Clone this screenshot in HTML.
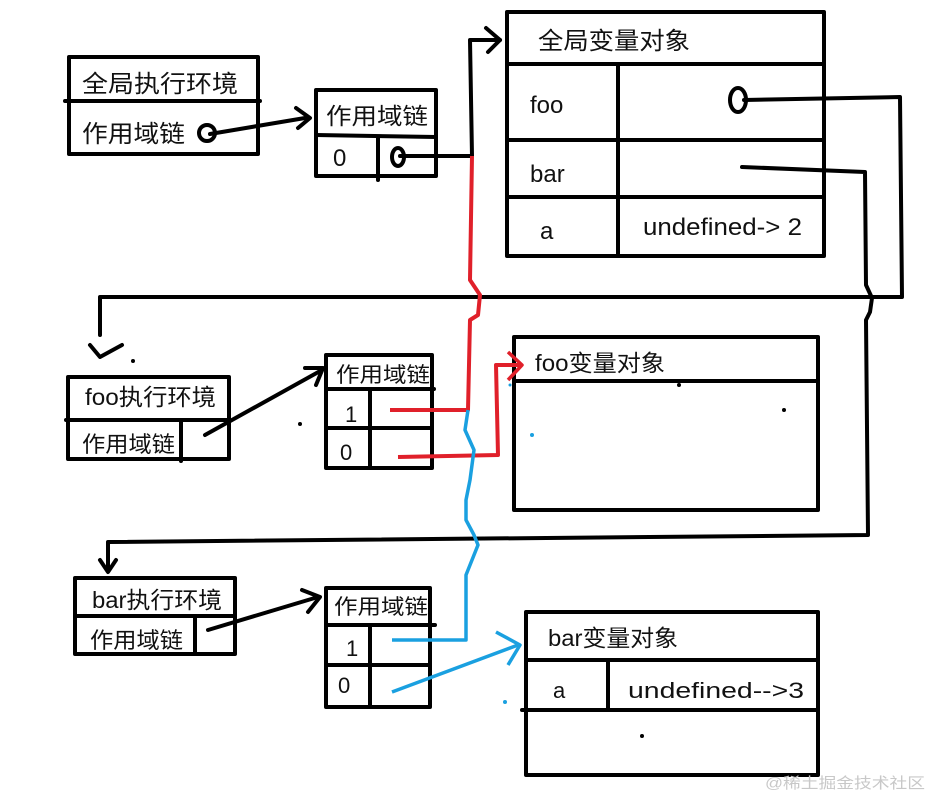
<!DOCTYPE html>
<html><head><meta charset="utf-8"><style>
html,body{margin:0;padding:0;background:#fff;}
svg{display:block}
text{font-family:"Liberation Sans","Noto Sans CJK SC",sans-serif;fill:#111;}
</style></head><body>
<svg width="929" height="799" viewBox="0 0 929 799" xmlns="http://www.w3.org/2000/svg">
<g fill="none" stroke="#000" stroke-width="4" stroke-linecap="round" stroke-linejoin="round">
<rect x="69" y="57" width="189" height="97"/>
<line x1="65" y1="101" x2="260" y2="101"/>
<circle cx="207" cy="133" r="8" stroke-width="4"/>
<line x1="210" y1="134" x2="305" y2="118"/>
<polyline points="296,108 310,118 298,128"/>
<rect x="316" y="90" width="120" height="86"/>
<line x1="316" y1="135" x2="436" y2="137"/>
<line x1="378" y1="137" x2="378" y2="180"/>
<ellipse cx="398" cy="157" rx="6" ry="9"/>
<line x1="400" y1="156" x2="470" y2="156"/>
<polyline points="472,156 470,40 500,40"/>
<polyline points="486,28 500,40 488,52"/>
<rect x="507" y="12" width="317" height="244"/>
<line x1="507" y1="64" x2="824" y2="64"/>
<line x1="507" y1="140" x2="824" y2="140"/>
<line x1="507" y1="197" x2="824" y2="197"/>
<line x1="618" y1="64" x2="618" y2="256"/>
<ellipse cx="738" cy="100" rx="8" ry="12"/>
<polyline points="744,100 900,97 902,297 100,297 100,335"/>
<polyline points="90,345 100,357 122,345"/>
<polyline points="742,167 865,172 866,285 872,298 870,312 866,320 868,535 108,542 108,568"/>
<polyline points="100,560 108,572 116,560"/>
<rect x="68" y="377" width="161" height="82"/>
<line x1="66" y1="420" x2="229" y2="420"/>
<line x1="181" y1="420" x2="181" y2="461"/>
<line x1="205" y1="435" x2="322" y2="370"/>
<polyline points="305,368 323,368 316,385"/>
<rect x="326" y="355" width="106" height="113"/>
<line x1="326" y1="389" x2="434" y2="389"/>
<line x1="326" y1="428" x2="432" y2="428"/>
<line x1="370" y1="389" x2="370" y2="468"/>
<rect x="514" y="337" width="304" height="173"/>
<line x1="514" y1="381" x2="818" y2="381"/>
<rect x="75" y="578" width="160" height="76"/>
<line x1="75" y1="616" x2="235" y2="616"/>
<line x1="195" y1="616" x2="195" y2="654"/>
<line x1="208" y1="630" x2="318" y2="597"/>
<polyline points="302,590 320,597 308,612"/>
<rect x="326" y="588" width="104" height="119"/>
<line x1="326" y1="625" x2="435" y2="625"/>
<line x1="326" y1="665" x2="430" y2="665"/>
<line x1="370" y1="625" x2="370" y2="707"/>
<rect x="526" y="612" width="292" height="163"/>
<line x1="526" y1="660" x2="818" y2="660"/>
<line x1="522" y1="710" x2="818" y2="710"/>
<line x1="608" y1="660" x2="608" y2="710"/>
</g>
<g fill="none" stroke="#e0202a" stroke-width="4" stroke-linejoin="round">
<polyline points="472,156 470,280 480,295 478,315 470,320 468,410 390,410"/>
<polyline points="398,457 498,455 496,365 520,365"/>
<polyline points="508,352 522,365 508,380" stroke-width="3.5"/>
</g>
<g fill="none" stroke="#1aa0e0" stroke-width="3.5" stroke-linejoin="round">
<polyline points="468,410 465,430 474,450 470,480 466,500 466,520 474,535 478,545 470,565 466,575 466,640 392,640"/>
<line x1="392" y1="692" x2="518" y2="645"/>
<polyline points="496,632 520,645 508,665"/>
</g>
<g fill="#000">
<circle cx="133" cy="361" r="2"/><circle cx="300" cy="424" r="2"/>
<circle cx="679" cy="385" r="2"/><circle cx="784" cy="410" r="2"/>
<circle cx="642" cy="736" r="2"/>
</g>
<g fill="#1aa0e0"><circle cx="532" cy="435" r="2"/><circle cx="505" cy="702" r="2"/><circle cx="510" cy="385" r="1.5"/></g>
<g font-size="24" lengthAdjust="spacingAndGlyphs">
<text x="82" y="92" textLength="156" lengthAdjust="spacingAndGlyphs">全局执行环境</text>
<text x="82" y="142" textLength="103" lengthAdjust="spacingAndGlyphs">作用域链</text>
<text x="326" y="124" font-size="23" textLength="102" lengthAdjust="spacingAndGlyphs">作用域链</text>
<text x="333" y="166">0</text>
<text x="538" y="49" textLength="152" lengthAdjust="spacingAndGlyphs">全局变量对象</text>
<text x="530" y="113">foo</text>
<text x="530" y="182">bar</text>
<text x="540" y="239">a</text>
<text x="643" y="235" textLength="159" lengthAdjust="spacingAndGlyphs">undefined-&gt; 2</text>
<text x="85" y="405" font-size="23" textLength="131" lengthAdjust="spacingAndGlyphs">foo执行环境</text>
<text x="82" y="452" font-size="22" textLength="93" lengthAdjust="spacingAndGlyphs">作用域链</text>
<text x="336" y="382" font-size="21" textLength="94" lengthAdjust="spacingAndGlyphs">作用域链</text>
<text x="345" y="422" font-size="22">1</text>
<text x="340" y="460" font-size="22">0</text>
<text x="535" y="371" font-size="23" textLength="130" lengthAdjust="spacingAndGlyphs">foo变量对象</text>
<text x="92" y="608" font-size="23" textLength="130" lengthAdjust="spacingAndGlyphs">bar执行环境</text>
<text x="90" y="648" font-size="22" textLength="93" lengthAdjust="spacingAndGlyphs">作用域链</text>
<text x="334" y="614" font-size="21" textLength="94" lengthAdjust="spacingAndGlyphs">作用域链</text>
<text x="346" y="656" font-size="22">1</text>
<text x="338" y="693" font-size="22">0</text>
<text x="548" y="646" font-size="23" textLength="130" lengthAdjust="spacingAndGlyphs">bar变量对象</text>
<text x="553" y="698" font-size="22">a</text>
<text x="628" y="698" font-size="22" textLength="176" lengthAdjust="spacingAndGlyphs">undefined--&gt;3</text>
</g>
<text x="765" y="788" font-size="15" style="fill:#c8c8c8" textLength="160" lengthAdjust="spacingAndGlyphs">@稀土掘金技术社区</text>
</svg>
</body></html>
